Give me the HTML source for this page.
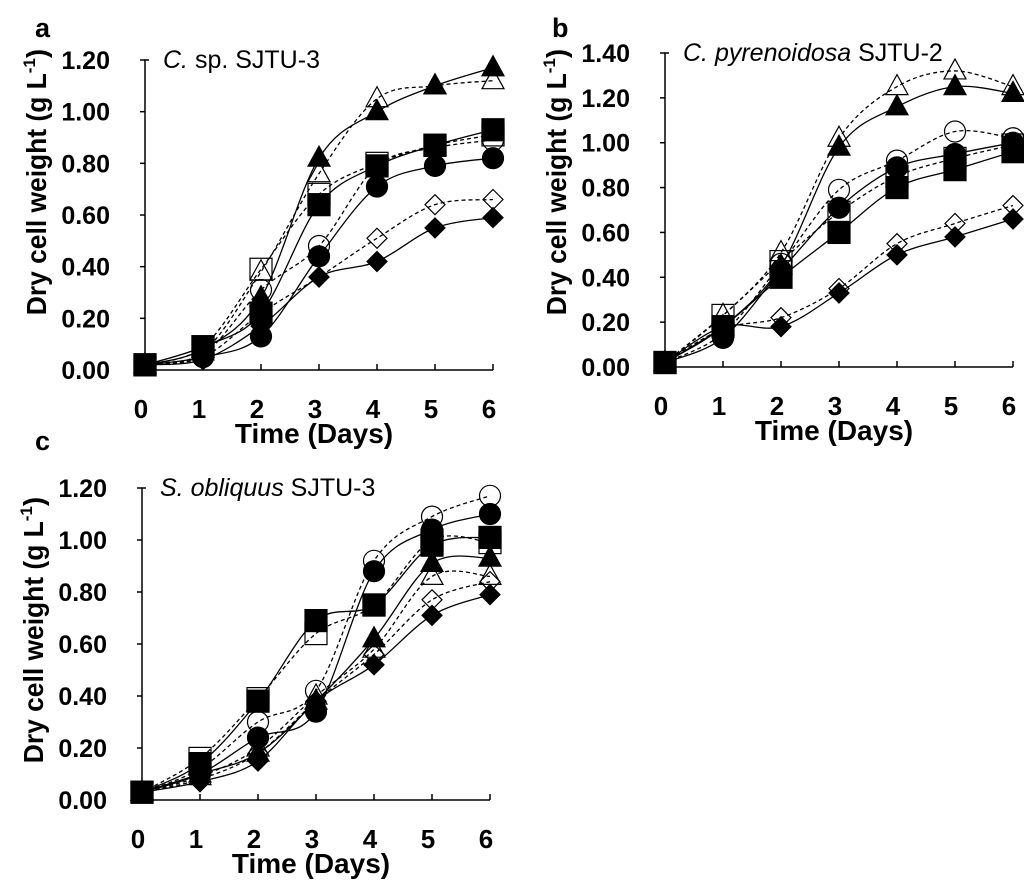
<!DOCTYPE html>
<html><head><meta charset="utf-8"><style>
html,body{margin:0;padding:0;background:#fff;}
svg{display:block;font-family:"Liberation Sans",Arial,sans-serif;}
</style></head><body>
<svg id="fig" width="1024" height="888" viewBox="0 0 1024 888" xmlns="http://www.w3.org/2000/svg"></svg>
<script>
const days = [0,1,2,3,4,5,6];
const seriesNames = ["tri-filled","tri-open","sq-filled","sq-open","circ-filled","circ-open","dia-filled","dia-open"];
const aTicks = ["0.00","0.20","0.40","0.60","0.80","1.00","1.20"];
const bTicks = ["0.00","0.20","0.40","0.60","0.80","1.00","1.20","1.40"];
const cTicks = ["0.00","0.20","0.40","0.60","0.80","1.00","1.20"];
const aTriF = [0.02,0.08,0.28,0.82,1.00,1.10,1.17];
const aTriO = [0.02,0.07,0.38,0.76,1.05,1.10,1.12];
const aSqF  = [0.02,0.09,0.22,0.64,0.79,0.87,0.93];
const aSqO  = [0.02,0.09,0.39,0.68,0.80,0.87,0.91];
const aCiF  = [0.02,0.05,0.13,0.44,0.71,0.79,0.82];
const aCiO  = [0.02,0.06,0.31,0.48,0.79,0.86,0.89];
const aDiF  = [0.02,0.04,0.17,0.36,0.42,0.55,0.59];
const aDiO  = [0.02,0.05,0.22,0.36,0.51,0.64,0.66];
const bTriF = [0.02,0.18,0.45,0.98,1.16,1.25,1.22];
const bTriO = [0.02,0.23,0.51,1.02,1.25,1.32,1.25];
const bSqF  = [0.02,0.18,0.40,0.60,0.80,0.88,0.96];
const bSqO  = [0.02,0.23,0.47,0.69,0.85,0.93,0.99];
const bCiF  = [0.02,0.13,0.43,0.71,0.89,0.95,1.00];
const bCiO  = [0.02,0.15,0.46,0.79,0.92,1.05,1.02];
const bDiF  = [0.02,0.18,0.18,0.33,0.50,0.58,0.66];
const bDiO  = [0.02,0.17,0.22,0.35,0.55,0.64,0.72];
const cTriF = [0.03,0.10,0.18,0.38,0.62,0.91,0.93];
const cTriO = [0.03,0.09,0.20,0.40,0.58,0.86,0.86];
const cSqF  = [0.03,0.14,0.38,0.69,0.75,0.98,1.01];
const cSqO  = [0.03,0.16,0.39,0.64,0.75,1.00,0.99];
const cCiF  = [0.03,0.10,0.24,0.34,0.88,1.04,1.10];
const cCiO  = [0.03,0.12,0.30,0.42,0.92,1.09,1.17];
const cDiF  = [0.03,0.07,0.15,0.38,0.52,0.71,0.79];
const cDiO  = [0.03,0.08,0.18,0.38,0.56,0.77,0.84];

const NS="http://www.w3.org/2000/svg";
const svg=document.getElementById('fig');
function mk(tag,attrs,parent){const e=document.createElementNS(NS,tag);for(const k in attrs)e.setAttribute(k,attrs[k]);(parent||svg).appendChild(e);return e;}

function smooth(pts){
  let d="M"+pts[0][0]+","+pts[0][1];
  for(let i=0;i<pts.length-1;i++){
    const p0=pts[i-1]||pts[i],p1=pts[i],p2=pts[i+1],p3=pts[i+2]||p2;
    const c1=[p1[0]+(p2[0]-p0[0])/6,p1[1]+(p2[1]-p0[1])/6];
    const c2=[p2[0]-(p3[0]-p1[0])/6,p2[1]-(p3[1]-p1[1])/6];
    d+=" C"+c1[0]+","+c1[1]+" "+c2[0]+","+c2[1]+" "+p2[0]+","+p2[1];
  }
  return d;
}
function marker(g,shape,filled,x,y){
  const fill=filled?"#000":"none",st={fill:fill,stroke:"#000","stroke-width":1.2};
  let e;
  if(shape==="tri") e=mk('polygon',Object.assign({points:`${x},${y-12} ${x-11},${y+8} ${x+11},${y+8}`},st),g);
  else if(shape==="sq") e=mk('rect',Object.assign({x:x-11,y:y-11,width:22,height:22},st),g);
  else if(shape==="circ") e=mk('circle',Object.assign({cx:x,cy:y,r:10.5},st),g);
  else e=mk('polygon',Object.assign({points:`${x},${y-10} ${x+10},${y} ${x},${y+10} ${x-10},${y}`},st),g);
  return e;
}
function drawPanel(p){
  const g=mk('g',{});
  
  
  const X=v=>p.x0+(p.x6-p.x0)*v/6;
  const Y=v=>p.y0-(p.y0-p.yTop)*v/p.yMax;
  const lbl=mk('text',{x:p.lx,y:p.ly,"font-size":27,"font-weight":"bold"},g);lbl.textContent=p.letter;
  
  const ax=mk('path',{d:`M${p.x0+4},${Y(p.yMax)} H${p.x0} V${p.y0} H${p.x6}`,fill:"none",stroke:"#000","stroke-width":1.5},g);
  
  p.ticks.forEach((t,i)=>{
    const v=parseFloat(t);
    mk('line',{x1:p.x0-5,x2:p.x0,y1:Y(v),y2:Y(v),stroke:"#000","stroke-width":1.5},g);
    const tx=mk('text',{x:p.x0-35,y:Y(v)+9,"font-size":25,"font-weight":"bold","text-anchor":"end"},g);
    tx.textContent=t;
    
  });
  days.forEach(d=>{
    if(d>0)mk('line',{x1:X(d),x2:X(d),y1:p.y0,y2:p.y0-6,stroke:"#000","stroke-width":1.5},g);
    const tx=mk('text',{x:X(d)-4,y:p.y0+48,"font-size":26,"font-weight":"bold","text-anchor":"middle"},g);
    tx.textContent=d;
    
  });
  const xt=mk('text',{x:(p.x0+p.x6)/2-5,y:p.y0+73,"font-size":28,"font-weight":"bold","text-anchor":"middle"},g);
  xt.textContent="Time (Days)";
  
  const yt=mk('text',{x:0,y:0,"font-size":28,"font-weight":"bold","text-anchor":"middle",transform:`translate(${p.x0-99},${p.titleCy}) rotate(-90)`},g);
  yt.innerHTML='<tspan textLength="242" lengthAdjust="spacingAndGlyphs">Dry cell weight  (g L</tspan><tspan font-size="17" dy="-11">-1</tspan><tspan dy="11">)</tspan>';
  
  const ti=mk('text',{x:p.x0+18,y:Y(p.yMax)+8,"font-size":25},g);
  ti.innerHTML=p.title;
  
  p.series.forEach((s,i)=>{
    const shape=seriesNames[i].split('-')[0],filled=seriesNames[i].endsWith('filled');
    const pts=days.map((d,j)=>[X(d),Y(s[j])]);
    const ln=mk('path',{d:smooth(pts),fill:"none",stroke:"#000","stroke-width":1.3,"stroke-dasharray":filled?"none":"4,3"},g);
    
    
    pts.forEach(pt=>{
      const m=marker(g,shape,filled,pt[0],pt[1]);
      
      
    });
  });
}
drawPanel({name:'panel-a',letter:'a',lx:35,ly:37,x0:145,x6:493,y0:370,yTop:60,yMax:1.2,ticks:aTicks,titleCy:182,
  title:'<tspan font-style="italic">C.</tspan> sp. SJTU-3',series:[aTriF,aTriO,aSqF,aSqO,aCiF,aCiO,aDiF,aDiO]});
drawPanel({name:'panel-b',letter:'b',lx:552,ly:37,x0:665,x6:1013,y0:367,yTop:53,yMax:1.4,ticks:bTicks,titleCy:182,
  title:'<tspan font-style="italic">C. pyrenoidosa</tspan> SJTU-2',series:[bTriF,bTriO,bSqF,bSqO,bCiF,bCiO,bDiF,bDiO]});
drawPanel({name:'panel-c',letter:'c',lx:35,ly:450,x0:142,x6:490,y0:800,yTop:488,yMax:1.2,ticks:cTicks,titleCy:630,
  title:'<tspan font-style="italic">S. obliquus</tspan> SJTU-3',series:[cTriF,cTriO,cSqF,cSqO,cCiF,cCiO,cDiF,cDiO]});
</script>
</body></html>
